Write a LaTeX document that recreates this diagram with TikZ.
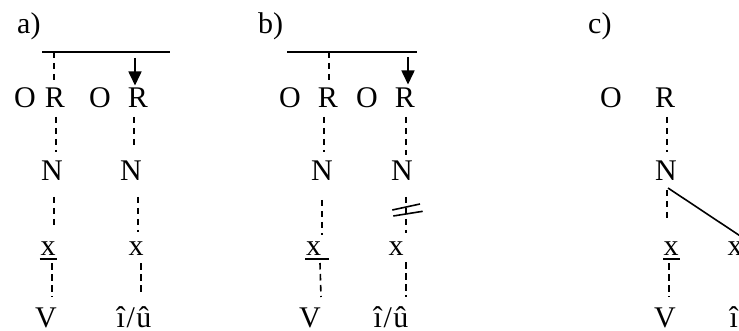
\documentclass[tikz,border=0pt]{standalone}
\usepackage{fontspec}
\setmainfont{Liberation Serif}
\usetikzlibrary{arrows.meta}
\newcommand{\iuslash}{î\kern1.5pt/\kern1.5ptû}
\begin{document}
\begin{tikzpicture}[x=1pt,y=-1pt,
  lbl/.style={font=\fontsize{30}{34}\selectfont, inner sep=0pt, anchor=base},
  dsh/.style={line width=1.6pt, dash pattern=on 6.5pt off 4.5pt},
  sln/.style={line width=1.6pt},
  uln/.style={line width=1.8pt},
  arr/.style={line width=1.6pt, -{Triangle[width=13pt,length=14pt]}}]
\useasboundingbox (0,0) rectangle (739,331);

% ---------- panel a ----------
\node[lbl, anchor=base west] (la) at (17,34) {a)};
\node[lbl] (O1) at (25,107.5) {O};
\node[lbl] (R1) at (55,107.5) {R};
\node[lbl] (O2) at (100,107.5) {O};
\node[lbl] (R2) at (138,107.5) {R};
\node[lbl] (N1) at (52,181) {N};
\node[lbl] (N2) at (131,181) {N};
\node[lbl] (X1) at (48,255) {x};
\node[lbl] (X2) at (136,255) {x};
\node[lbl] (V1) at (46,327) {V};
\node[lbl] (W1) at (134,327) {\iuslash};
\coordinate (Ha1) at (42,52);
\coordinate (Ha2) at (170,52);
\coordinate (Da) at (54,52);
\coordinate (Aa) at (135,58);
\draw[sln] (Ha1) -- (Ha2);
\draw[dsh] (Da) -- ([xshift=-1pt,yshift=22.5pt]R1.base);
\draw[arr] (Aa) -- ([xshift=-3pt,yshift=22pt]R2.base);
\draw[dsh] ([xshift=1pt,yshift=-9.5pt]R1.base) -- ([xshift=4pt,yshift=29pt]N1.base);
\draw[dsh] ([xshift=-4pt,yshift=-9.5pt]R2.base) -- ([xshift=3pt,yshift=31pt]N2.base);
\draw[dsh] ([xshift=2pt,yshift=-16pt]N1.base) -- ([xshift=6pt,yshift=25pt]X1.base);
\draw[dsh] ([xshift=7pt,yshift=-16pt]N2.base) -- ([xshift=2pt,yshift=23pt]X2.base);
\draw[dsh] ([xshift=4pt,yshift=-8pt]X1.base) -- ([xshift=6pt,yshift=30pt]V1.base);
\draw[dsh] ([xshift=5pt,yshift=-8pt]X2.base) -- ([xshift=7pt,yshift=32pt]W1.base);
\draw[uln] ([xshift=-8.5pt,yshift=-3.7pt]X1.base) -- ([xshift=8.7pt,yshift=-3.7pt]X1.base);

% ---------- panel b ----------
\node[lbl, anchor=base west] (lb) at (258,34) {b)};
\node[lbl] (O3) at (290,107.5) {O};
\node[lbl] (R3) at (328,107.5) {R};
\node[lbl] (O4) at (367,107.5) {O};
\node[lbl] (R4) at (405,107.5) {R};
\node[lbl] (N3) at (322,181) {N};
\node[lbl] (N4) at (402,181) {N};
\node[lbl] (X3) at (313.5,255.5) {x};
\node[lbl] (X4) at (396,255.5) {x};
\node[lbl] (V2) at (310,327) {V};
\node[lbl] (W2) at (391,327) {\iuslash};
\coordinate (Hb1) at (287,52);
\coordinate (Hb2) at (417,52);
\coordinate (Db) at (329,52);
\coordinate (Ab) at (408,57);
\draw[sln] (Hb1) -- (Hb2);
\draw[dsh] (Db) -- ([xshift=1pt,yshift=24.5pt]R3.base);
\draw[arr] (Ab) -- ([xshift=3pt,yshift=23pt]R4.base);
\draw[dsh] ([xshift=-4pt,yshift=-9.5pt]R3.base) -- ([xshift=2pt,yshift=29pt]N3.base);
\draw[dsh] ([xshift=1pt,yshift=-9.5pt]R4.base) -- ([xshift=4pt,yshift=26pt]N4.base);
\draw[dsh] ([xshift=0pt,yshift=-19pt]N3.base) -- ([xshift=8.5pt,yshift=20.5pt]X3.base);
\draw[dsh] ([xshift=4pt,yshift=-16pt]N4.base) -- ([xshift=10pt,yshift=22.5pt]X4.base);
\draw[dsh] ([xshift=6.5pt,yshift=-7.5pt]X3.base) -- ([xshift=11pt,yshift=30pt]V2.base);
\draw[dsh] ([xshift=10pt,yshift=-6.5pt]X4.base) -- ([xshift=15pt,yshift=30pt]W2.base);
\draw[uln] ([xshift=-8.5pt,yshift=-3.8pt]X3.base) -- ([xshift=15.5pt,yshift=-3.8pt]X3.base);
\coordinate (S1a) at (392.3,210);
\coordinate (S1b) at (420,204);
\coordinate (S2a) at (393.3,216);
\coordinate (S2b) at (422.7,211.3);
\draw[sln] (S1a) -- (S1b);
\draw[sln] (S2a) -- (S2b);

% ---------- panel c ----------
\node[lbl, anchor=base west] (lc) at (588,34) {c)};
\node[lbl] (O5) at (611,107.5) {O};
\node[lbl] (R5) at (665,107.5) {R};
\node[lbl] (N5) at (666,181) {N};
\node[lbl] (X5) at (671,255.5) {x};
\node[lbl] (X6) at (735,255.5) {x};
\node[lbl] (V3) at (665,327) {V};
\node[lbl] (W3) at (747,327) {\iuslash};
\draw[dsh] ([xshift=2pt,yshift=-9.5pt]R5.base) -- ([xshift=1pt,yshift=29pt]N5.base);
\draw[dsh] ([xshift=1pt,yshift=-9pt]N5.base) -- ([xshift=-4pt,yshift=32.5pt]X5.base);
\draw[dsh] ([xshift=-2pt,yshift=-7.5pt]X5.base) -- ([xshift=4pt,yshift=30pt]V3.base);
\draw[sln] ([xshift=2pt,yshift=-7pt]N5.base) -- ([xshift=6pt,yshift=19pt]X6.base);
\draw[uln] ([xshift=-8pt,yshift=-3.5pt]X5.base) -- ([xshift=9pt,yshift=-3.5pt]X5.base);
\end{tikzpicture}
\end{document}
